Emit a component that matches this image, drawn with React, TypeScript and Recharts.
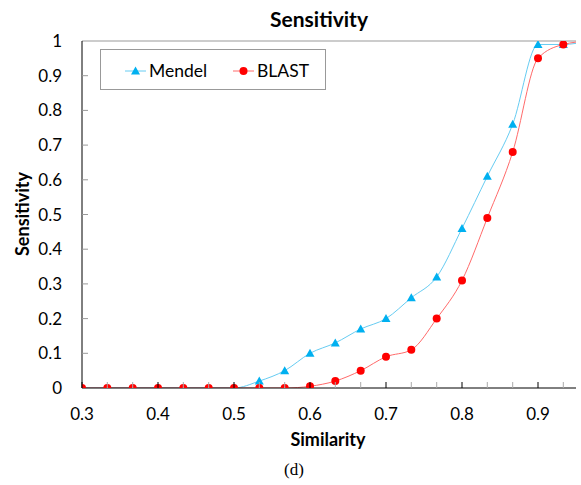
import React from "react";
import { LineChart, Line, XAxis, YAxis, ReferenceLine } from "recharts";

const similarity = [0.3, 0.3333, 0.3667, 0.4, 0.4333, 0.4667, 0.5, 0.5333, 0.5667, 0.6, 0.6333, 0.6667, 0.7, 0.7333, 0.7667, 0.8, 0.8333, 0.8667, 0.9, 0.9333, 0.9667];
const mendel = [0, 0, 0, 0, 0, 0, 0, 0.02, 0.05, 0.1, 0.13, 0.17, 0.2, 0.26, 0.32, 0.46, 0.61, 0.76, 0.99, 0.99, 1.0];
const blast = [0, 0, 0, 0, 0, 0, 0, 0, 0, 0.005, 0.02, 0.05, 0.09, 0.11, 0.2, 0.31, 0.49, 0.68, 0.95, 0.99, 1.0];

const xTicks = [0.3, 0.3333, 0.3667, 0.4, 0.4333, 0.4667, 0.5, 0.5333, 0.5667, 0.6, 0.6333, 0.6667, 0.7, 0.7333, 0.7667, 0.8, 0.8333, 0.8667, 0.9, 0.9333];
const xLabels = [0.3, 0.4, 0.5, 0.6, 0.7, 0.8, 0.9];
const yTicks = [0, 0.1, 0.2, 0.3, 0.4, 0.5, 0.6, 0.7, 0.8, 0.9, 1];

const data = similarity.map((x, i) => ({ x, mendel: mendel[i], blast: blast[i] }));

const FONT = "Lato, 'Open Sans', sans-serif";
const CYAN = "#00B0F0";
const CYAN_LINE = "#66CCF2";
const RED = "#FF0000";
const RED_LINE = "#FF6A6A";

function XTick(props: any) {
    const { x, y, payload } = props;
    const v = payload.value;
    const major = xLabels.some((l) => Math.abs(l - v) < 0.001);
    return (
        <g>
            <line x1={x} x2={x} y1={y} y2={y - 6} stroke={major ? "#000" : "#aaa"} strokeWidth={1} />
            {major && (
                <text x={x} y={y + 32} textAnchor="middle" fontSize={17} fill="#000" fontFamily={FONT}>
                    {v.toFixed(1)}
                </text>
            )}
        </g>
    );
}

function YTick(props: any) {
    const { x, y, payload } = props;
    const v = payload.value;
    return (
        <g>
            {v > 0 && v < 1 && <line x1={x} x2={x + 6} y1={y} y2={y} stroke="#999" strokeWidth={1} />}
            <text x={x - 20} y={y + 6} textAnchor="end" fontSize={17} fill="#000" fontFamily={FONT}>
                {v === 0 || v === 1 ? String(v) : v.toFixed(1)}
            </text>
        </g>
    );
}

function RTick(props: any) {
    const { x, y, payload } = props;
    const v = payload.value;
    if (v <= 0 || v >= 1) return null;
    return <line x1={x} x2={x - 6} y1={y} y2={y} stroke="#999" strokeWidth={1} />;
}

function Triangle(props: any) {
    const { cx, cy } = props;
    if (cx == null || cy == null) return null;
    return <path d={`M${cx},${cy - 4.5} L${cx + 4.5},${cy + 3.5} L${cx - 4.5},${cy + 3.5} Z`} fill={CYAN} />;
}

function Circle(props: any) {
    const { cx, cy } = props;
    if (cx == null || cy == null) return null;
    return <circle cx={cx} cy={cy} r={4} fill={RED} />;
}

export default function App() {
    return (
        <div style={{ position: "absolute", left: 0, top: 0, width: 581, height: 485, background: "#fff", fontFamily: FONT }}>
            <div style={{ position: "absolute", left: 119, width: 400, top: 6, textAlign: "center", fontSize: 21, fontWeight: "bold", lineHeight: 1.2 }}>
                Sensitivity
            </div>
            <LineChart width={581} height={485} data={data} margin={{ top: 41, right: 5, left: 0, bottom: 0 }}>
                <XAxis
                    dataKey="x"
                    type="number"
                    domain={[0.3, 0.95]}
                    allowDataOverflow
                    ticks={xTicks}
                    interval={0}
                    tick={<XTick />}
                    tickSize={0}
                    tickMargin={0}
                    tickLine={false}
                    axisLine={{ stroke: "#000" }}
                    height={97}
                />
                <YAxis
                    domain={[0, 1]}
                    ticks={yTicks}
                    interval={0}
                    tick={<YTick />}
                    tickSize={0}
                    tickMargin={0}
                    tickLine={false}
                    axisLine={{ stroke: "#000" }}
                    width={82}
                    allowDataOverflow
                />
                <YAxis
                    yAxisId="r"
                    orientation="right"
                    domain={[0, 1]}
                    ticks={yTicks}
                    interval={0}
                    tick={<RTick />}
                    tickSize={0}
                    tickMargin={0}
                    tickLine={false}
                    axisLine={{ stroke: "#000" }}
                    width={0}
                />
                <ReferenceLine y={1} stroke="#999" />
                <Line
                    type="monotone"
                    dataKey="mendel"
                    stroke={CYAN_LINE}
                    strokeWidth={1}
                    dot={<Triangle />}
                    activeDot={false}
                    isAnimationActive={false}
                />
                <Line
                    type="monotone"
                    dataKey="blast"
                    stroke={RED_LINE}
                    strokeWidth={1}
                    dot={<Circle />}
                    activeDot={false}
                    isAnimationActive={false}
                />
            </LineChart>
            <div style={{ position: "absolute", left: 100, top: 49, width: 226, height: 41, border: "1px solid #999", boxSizing: "border-box" }}>
                <svg width={226} height={41} style={{ position: "absolute", left: 0, top: 0 }}>
                    <line x1={24} x2={45} y1={21} y2={21} stroke={CYAN_LINE} />
                    <Triangle cx={34.5} cy={21} />
                    <text x={48} y={27} fontSize={17.5} fontFamily={FONT}>Mendel</text>
                    <line x1={132} x2={153} y1={21} y2={21} stroke={RED_LINE} />
                    <Circle cx={142.5} cy={21} />
                    <text x={156} y={27} fontSize={17.5} fontFamily={FONT}>BLAST</text>
                </svg>
            </div>
            <div style={{ position: "absolute", left: 128, width: 400, top: 429, textAlign: "center", fontSize: 18, fontWeight: "bold", lineHeight: 1.2 }}>
                Similarity
            </div>
            <div
                style={{
                    position: "absolute",
                    left: 23,
                    top: 214,
                    transform: "translate(-50%, -50%) rotate(-90deg)",
                    fontSize: 18,
                    fontWeight: "bold",
                    whiteSpace: "nowrap",
                    lineHeight: 1.2,
                }}
            >
                Sensitivity
            </div>
            <div style={{ position: "absolute", left: 194, width: 200, top: 460, textAlign: "center", fontSize: 17, lineHeight: 1.15, fontFamily: "'Liberation Serif', serif" }}>
                (d)
            </div>
        </div>
    );
}
